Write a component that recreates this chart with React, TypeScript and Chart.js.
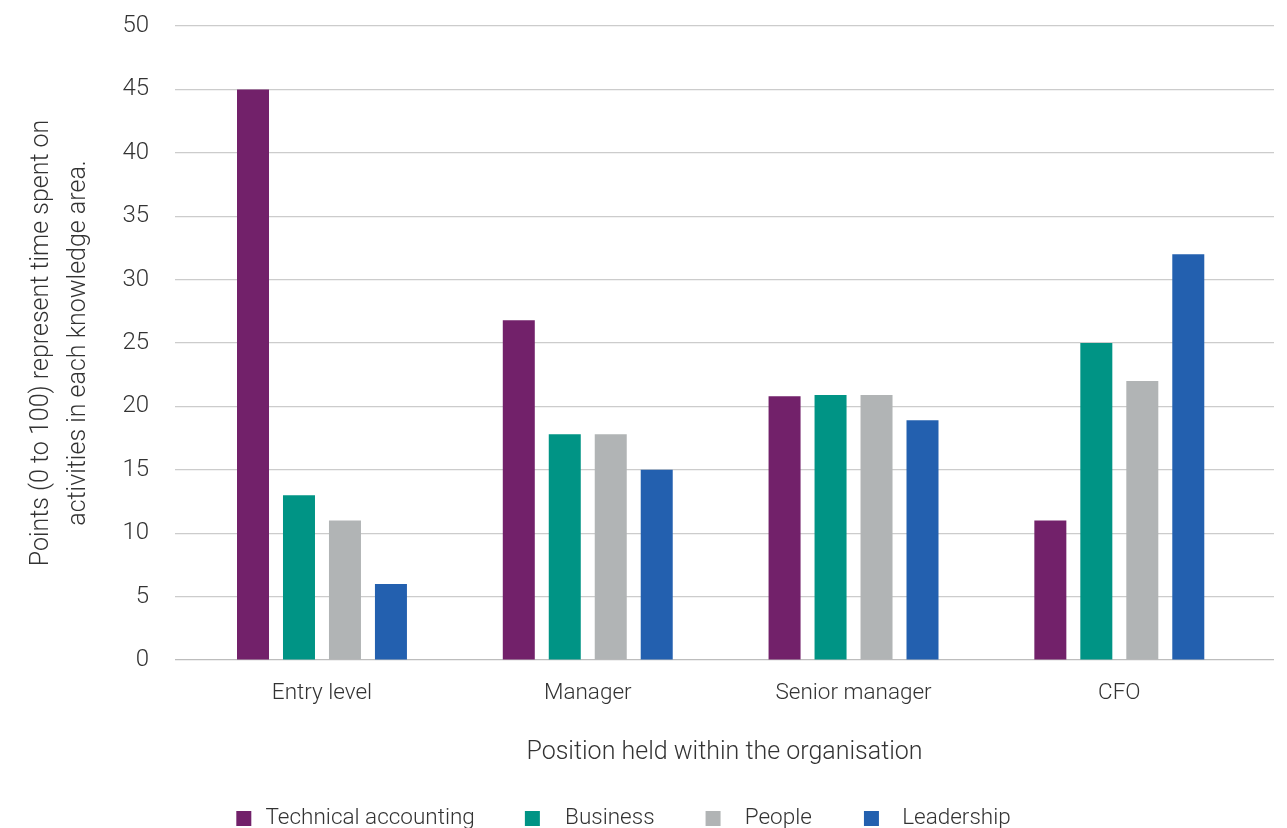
import React, { useEffect, useRef } from 'react';
import { Chart, registerables } from 'chart.js';

Chart.register(...registerables);

const categories = ['Entry level', 'Manager', 'Senior manager', 'CFO'];
const seriesNames = ['Technical accounting', 'Business', 'People', 'Leadership'];
const technicalAccounting = [45, 26.8, 20.8, 11];
const business = [13, 17.8, 20.9, 25];
const people = [11, 17.8, 20.9, 22];
const leadership = [6, 15, 18.9, 32];
const seriesValues = [technicalAccounting, business, people, leadership];
const seriesColors = ['#72216A', '#009485', '#B1B4B5', '#2360AF'];
const yAxisTitle = ['Points (0 to 100) represent time spent on', 'activities in each knowledge area.'];
const xAxisTitle = 'Position held within the organisation';

const TEXT = '#333333';
const FONT = 'Roboto, "Noto Sans", sans-serif';

export default function App() {
  const ref = useRef<HTMLCanvasElement>(null);

  useEffect(() => {
    document.body.style.margin = '0';
    const LEADS = [49, 38, 39, 40];
    const BOX = 15;
    const W = 67;
    const DX = -38;
    const DY = 12;

    const swatches = seriesColors.map((c, i) => {
      const cv = document.createElement('canvas');
      cv.width = W;
      cv.height = BOX;
      const cx = cv.getContext('2d')!;
      cx.fillStyle = c;
      cx.fillRect(LEADS[i], 0, BOX, BOX);
      return cv;
    });

    const legendShift = {
      id: 'legendShift',
      afterLayout(chart: any) {
        const lg = chart.legend;
        if (!lg) return;
        lg.left += DX;
        lg.right += DX;
        lg.top += DY;
        lg.bottom += DY;
      },
    };

    const chart = new Chart(ref.current!, {
      type: 'bar',
      data: {
        datasets: seriesNames.map((name, i) => ({
          label: name,
          data: seriesValues[i].map((v, j) => ({ x: j, y: v })),
          backgroundColor: seriesColors[i],
          borderWidth: 0,
          barPercentage: 0.696,
          categoryPercentage: 0.692,
        })),
      },
      options: {
        responsive: true,
        maintainAspectRatio: false,
        animation: false,
        font: { family: FONT },
        layout: { padding: { top: 26, right: 13, left: 0, bottom: 0 } },
        plugins: {
          tooltip: { enabled: false },
          legend: {
            position: 'bottom',
            labels: {
              usePointStyle: true,
              pointStyleWidth: W,
              boxHeight: BOX,
              padding: 12,
              color: TEXT,
              font: { family: FONT, size: 22.5, weight: '300' },
              generateLabels: (c: any) =>
                (Chart.defaults.plugins.legend.labels.generateLabels as any)(c).map((it: any, i: number) => ({
                  ...it,
                  pointStyle: swatches[i],
                })),
            },
          },
        },
        scales: {
          x: {
            type: 'linear',
            offset: false,
            min: -0.553,
            max: 3.582,
            grid: { display: false },
            border: { display: false },
            afterBuildTicks: (s: any) => {
              s.ticks = categories.map((_, i) => ({ value: i }));
            },
            afterFit: (s: any) => {
              s.height = 123.5;
            },
            ticks: {
              autoSkip: false,
              maxRotation: 0,
              padding: 12,
              color: TEXT,
              font: { family: FONT, size: 22.5, weight: '300' },
              callback: (v: any) => categories[v as number] ?? '',
            },
            title: {
              display: true,
              text: xAxisTitle,
              color: TEXT,
              font: { family: FONT, size: 25, weight: '300' },
              padding: { top: 10, bottom: 16 },
            },
          },
          y: {
            min: 0,
            max: 50,
            afterFit: (s: any) => {
              s.width = 175;
              s.paddingTop = 0;
              s.paddingBottom = 0;
            },
            ticks: {
              stepSize: 5,
              padding: 26,
              color: TEXT,
              font: { family: FONT, size: 24, weight: '300' },
            },
            grid: {
              color: (ctx: any) => (ctx.tick && ctx.tick.value === 0 ? '#bdbdbd' : '#cccccc'),
              lineWidth: 1.2,
              drawTicks: false,
            },
            border: { display: false },
            title: {
              display: true,
              text: yAxisTitle,
              color: TEXT,
              font: { family: FONT, size: 25, weight: '300', lineHeight: 1.48 },
              padding: { top: 23, bottom: 0 },
            },
          },
        },
      } as any,
      plugins: [legendShift],
    });
    return () => chart.destroy();
  }, []);

  return (
    <div style={{ position: 'fixed', left: 0, top: 0, width: 1287, height: 828 }}>
      <canvas ref={ref} />
    </div>
  );
}
